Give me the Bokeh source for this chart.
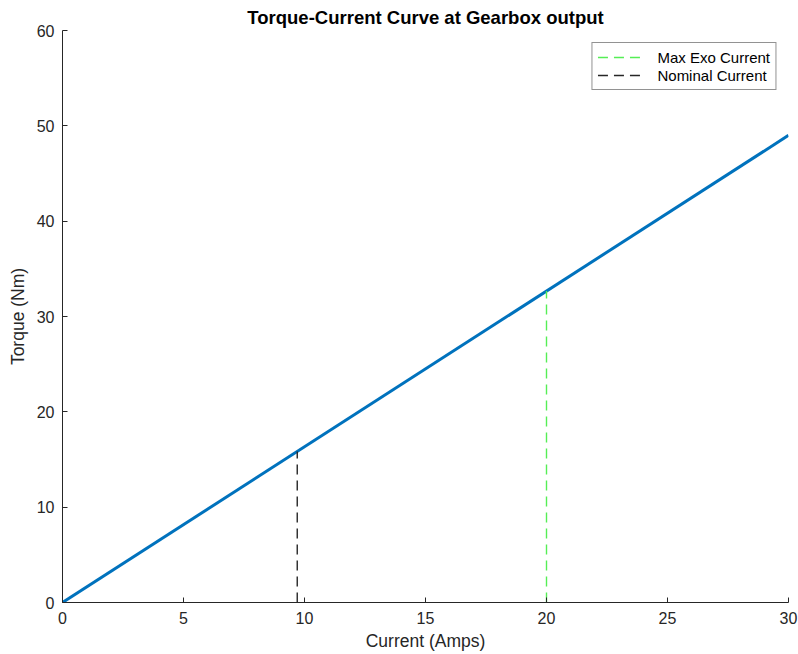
from bokeh.plotting import figure
from bokeh.models import Range1d, FixedTicker, Legend, LegendItem
from bokeh.embed import file_html
from bokeh.resources import INLINE

# Torque at the gearbox output vs motor current
current = [0.0, 30.0]
torque = [0.0, 49.0]

# Reference currents and the torque reached at each
nominal_current = 9.7
nominal_torque = 15.85
max_exo_current = 20.0
max_exo_torque = 32.67

x_ticks = [0, 5, 10, 15, 20, 25, 30]
y_ticks = [0, 10, 20, 30, 40, 50, 60]

FONT = "Liberation Sans"
AX = "#262626"

p = figure(width=798, height=654, output_backend="svg", toolbar_location=None,
           x_range=Range1d(0, 30), y_range=Range1d(0, 60),
           min_border_left=62, min_border_right=10, min_border_top=30, min_border_bottom=52)
p.outline_line_color = None
p.grid.visible = False
p.background_fill_color = "white"

p.title.text = "Torque-Current Curve at Gearbox output"
p.title.align = "center"
p.title.text_font = FONT
p.title.text_font_size = "18.5px"
p.title.text_font_style = "bold"
p.title.text_color = "black"
p.title.standoff = 5

for ax in (p.xaxis[0], p.yaxis[0]):
    ax.axis_line_color = AX
    ax.major_tick_line_color = AX
    ax.major_tick_in = 5
    ax.major_tick_out = 0
    ax.minor_tick_line_color = None
    ax.major_label_text_font = FONT
    ax.major_label_text_font_size = "16px"
    ax.major_label_text_color = AX
    ax.axis_label_text_font = FONT
    ax.axis_label_text_font_size = "17.5px"
    ax.axis_label_text_font_style = "normal"
    ax.axis_label_text_color = AX

p.xaxis.ticker = FixedTicker(ticks=x_ticks)
p.yaxis.ticker = FixedTicker(ticks=y_ticks)
p.xaxis.axis_label = "Current (Amps)"
p.yaxis.axis_label = "Torque (Nm)"
p.xaxis.major_label_standoff = 9
p.yaxis.major_label_standoff = 8
p.xaxis.axis_label_standoff = 4
p.yaxis.axis_label_standoff = 6

p.line(current, torque, line_color="#0072BD", line_width=3)

r_max = p.line([max_exo_current, max_exo_current], [0, max_exo_torque],
               line_color="#55EE55", line_width=1.4, line_dash="10 6")
r_nom = p.line([nominal_current, nominal_current], [0, nominal_torque],
               line_color="#262626", line_width=1.4, line_dash="10 6")

legend = Legend(items=[LegendItem(label="Max Exo Current", renderers=[r_max]),
                       LegendItem(label="Nominal Current", renderers=[r_nom])],
                location="top_right")
legend.label_text_font = FONT
legend.label_text_font_size = "15px"
legend.label_text_color = "black"
legend.border_line_color = "#262626"
legend.border_line_width = 1
legend.glyph_width = 48
legend.spacing = 0
legend.padding = 5
legend.margin = 12
legend.label_height = 18
legend.glyph_height = 18
legend.label_standoff = 12
p.add_layout(legend)

open("out.html", "w").write(file_html(p, INLINE))
